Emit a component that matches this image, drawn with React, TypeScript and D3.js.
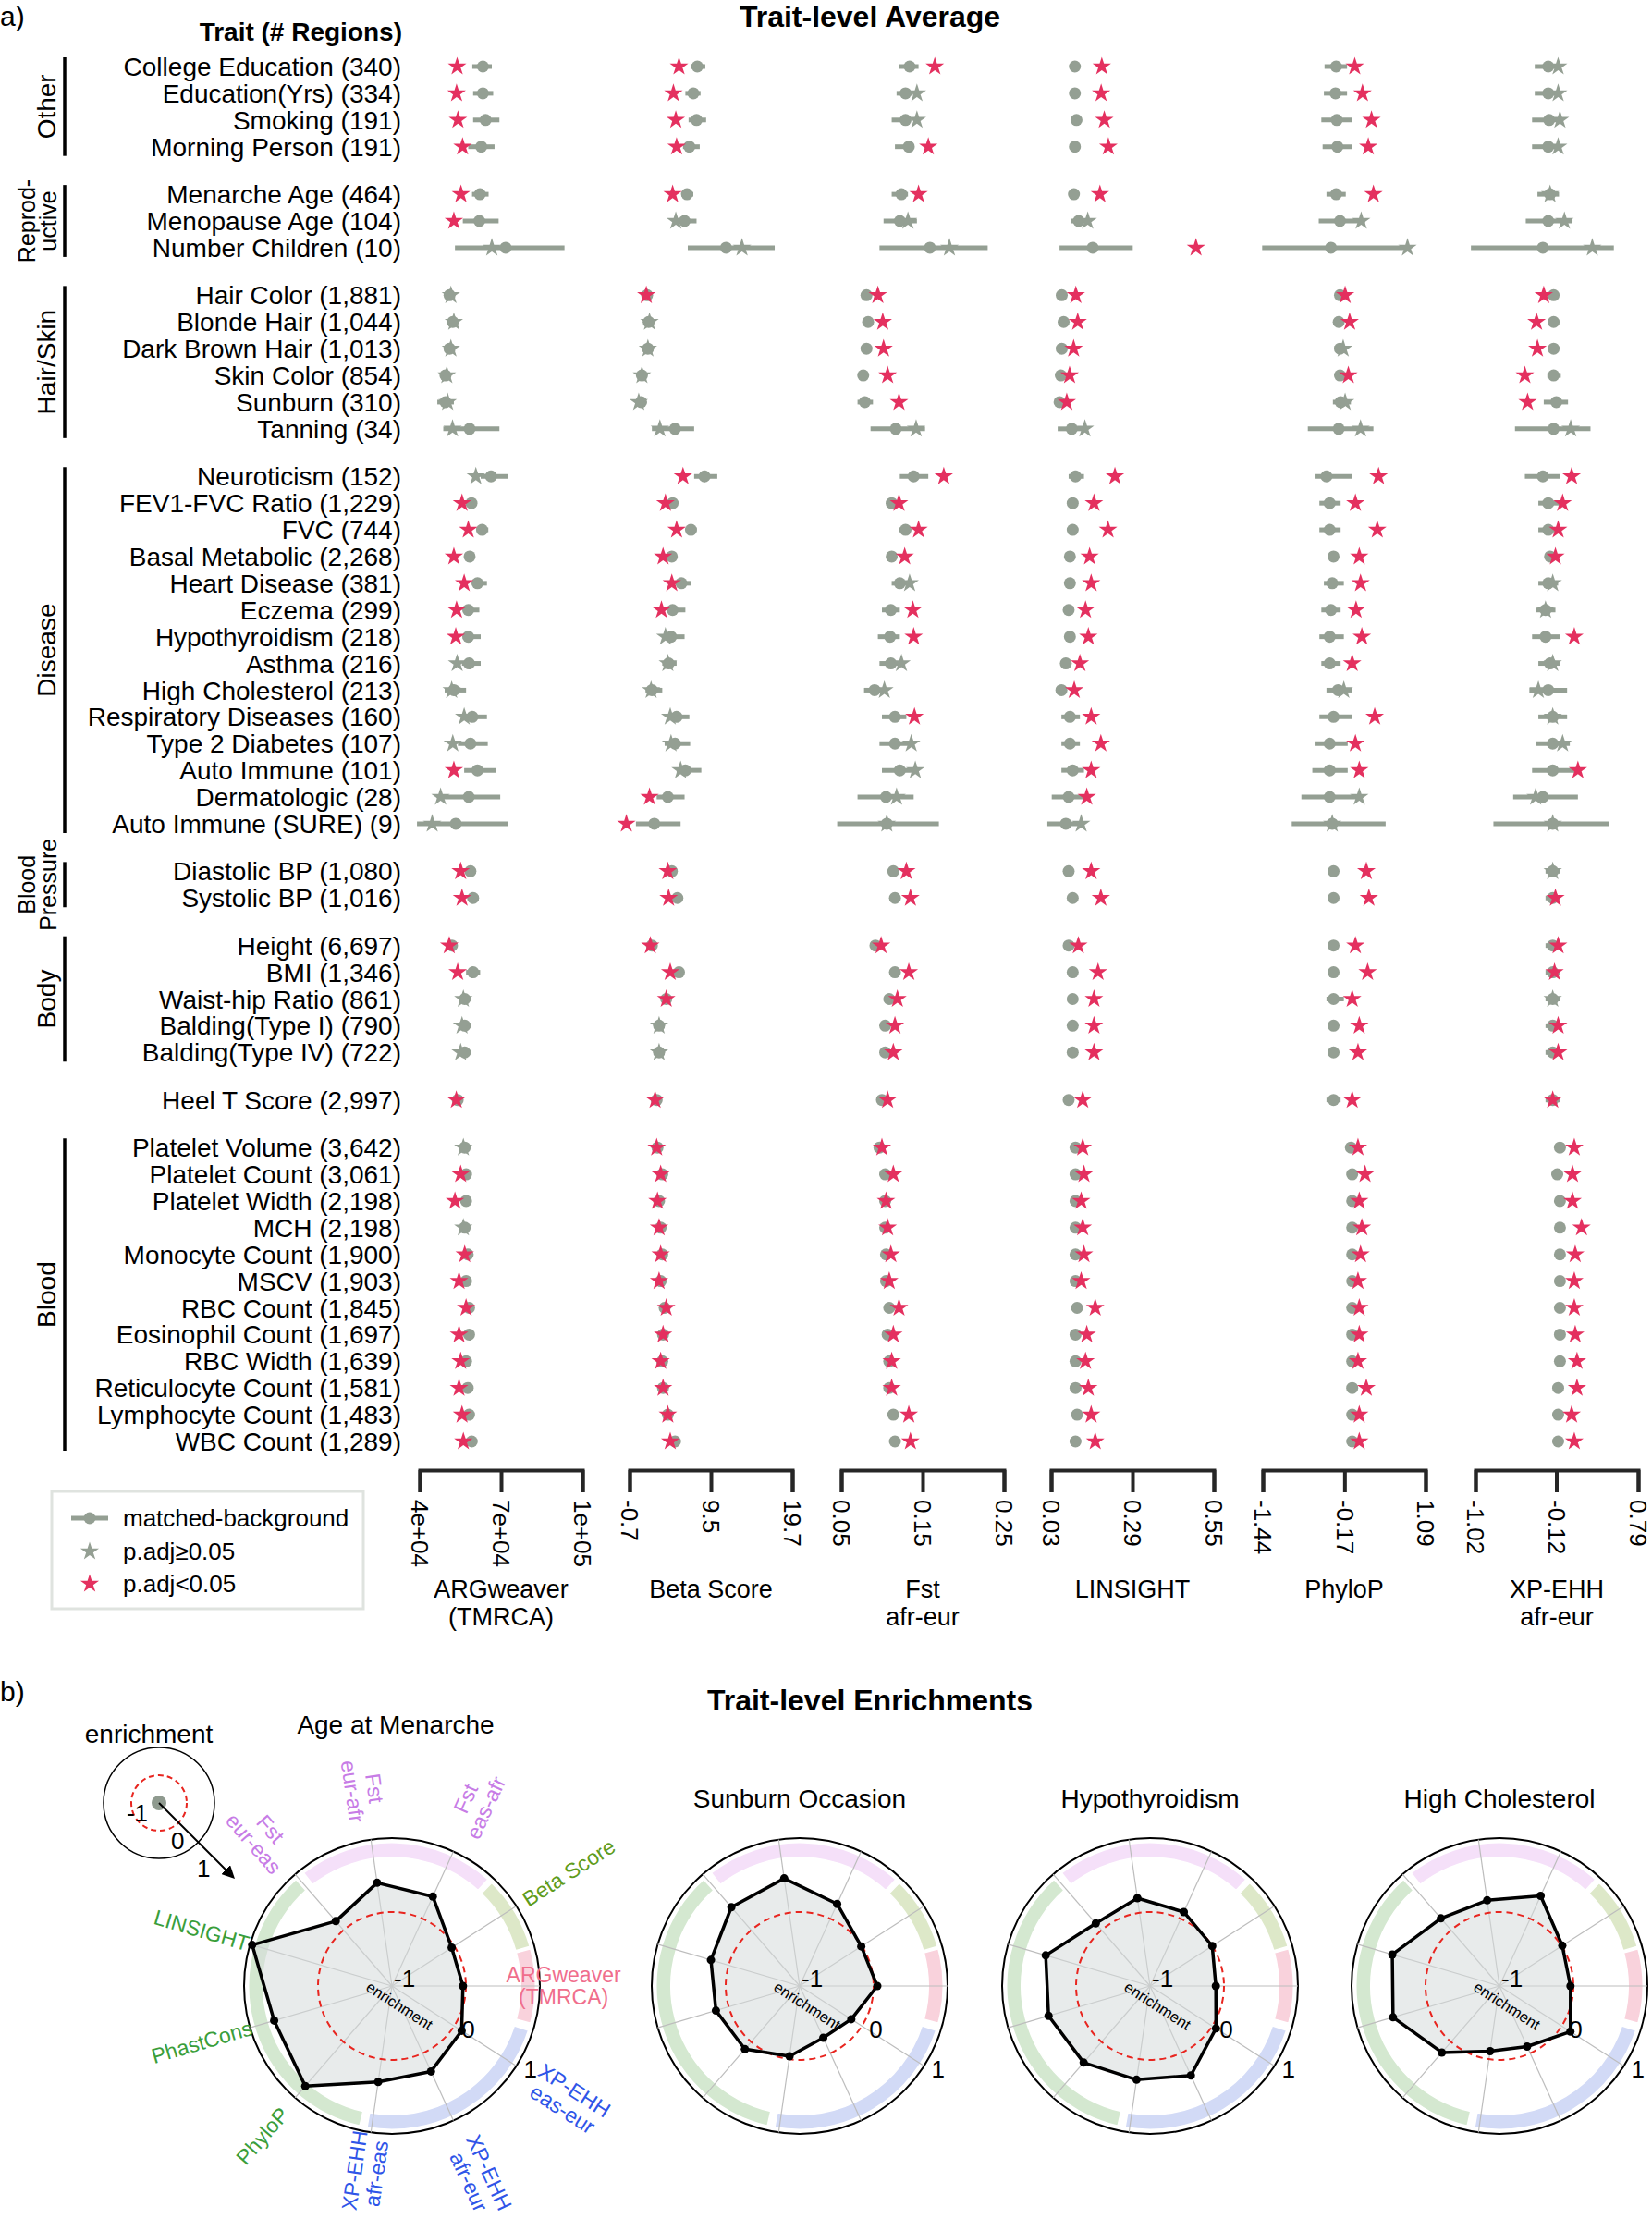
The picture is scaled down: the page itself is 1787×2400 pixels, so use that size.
import { useEffect, useRef } from "react";
import * as d3 from "d3";

const FONT = "'Liberation Sans', Arial, Helvetica, sans-serif";
const SAGE = "#949f93";
const RED = "#e4305f";

// ---------- panel a data ----------
const traits = [
  "College Education (340)", "Education(Yrs) (334)", "Smoking (191)", "Morning Person (191)",
  "Menarche Age (464)", "Menopause Age (104)", "Number Children (10)",
  "Hair Color (1,881)", "Blonde Hair (1,044)", "Dark Brown Hair (1,013)", "Skin Color (854)", "Sunburn (310)", "Tanning (34)",
  "Neuroticism (152)", "FEV1-FVC Ratio (1,229)", "FVC (744)", "Basal Metabolic (2,268)", "Heart Disease (381)",
  "Eczema (299)", "Hypothyroidism (218)", "Asthma (216)", "High Cholesterol (213)", "Respiratory Diseases (160)",
  "Type 2 Diabetes (107)", "Auto Immune (101)", "Dermatologic (28)", "Auto Immune (SURE) (9)",
  "Diastolic BP (1,080)", "Systolic BP (1,016)",
  "Height (6,697)", "BMI (1,346)", "Waist-hip Ratio (861)", "Balding(Type I) (790)", "Balding(Type IV) (722)",
  "Heel T Score (2,997)",
  "Platelet Volume (3,642)", "Platelet Count (3,061)", "Platelet Width (2,198)", "MCH (2,198)", "Monocyte Count (1,900)",
  "MSCV (1,903)", "RBC Count (1,845)", "Eosinophil Count (1,697)", "RBC Width (1,639)", "Reticulocyte Count (1,581)",
  "Lymphocyte Count (1,483)", "WBC Count (1,289)",
];

const groupLabels = [["Other"], ["Reprod-", "uctive"], ["Hair/Skin"], ["Disease"], ["Blood", "Pressure"], ["Body"], [], ["Blood"]];
const groupSizes = [4, 3, 6, 14, 2, 5, 1, 12];

// each row: [background mean, ci low, ci high, trait value, significant]
const argweaver = [
  [63300, 59400, 66600, 53800, 1], [63300, 59700, 67100, 53600, 1], [64300, 59700, 69400, 54100, 1], [62700, 57900, 67600, 55800, 1],
  [62200, 59300, 65400, 55200, 1], [62000, 55900, 69100, 52600, 1], [71700, 53000, 93400, 66600, 0],
  [51000, 50300, 51700, 51500, 0], [52200, 51500, 52900, 52600, 0], [51000, 50300, 51700, 51500, 0],
  [49500, 47600, 51100, 50000, 0], [49500, 46500, 52600, 50300, 0], [58400, 48700, 69400, 52100, 0],
  [66300, 62500, 72500, 60700, 0], [59100, 57900, 60500, 55600, 1], [63000, 61000, 65300, 57900, 1],
  [58400, 57800, 59000, 52600, 1], [61300, 59400, 64800, 56400, 1], [57900, 56400, 62000, 53600, 1],
  [57900, 55900, 62500, 53300, 1], [58200, 55600, 62500, 53800, 0], [52600, 49200, 57100, 51800, 0],
  [59400, 56400, 64800, 56400, 0], [58700, 54100, 65100, 52200, 0], [61300, 56400, 68200, 52600, 1],
  [58100, 46400, 69700, 47700, 0], [53300, 39000, 72500, 44600, 0],
  [58700, 57100, 60800, 55100, 1], [59700, 57700, 61800, 55600, 1],
  [51900, 50900, 52900, 50900, 1], [59700, 57100, 62300, 54000, 1], [56600, 54500, 58700, 56100, 0],
  [56600, 54500, 58700, 55600, 0], [56600, 54500, 58700, 55100, 0],
  [54000, 53000, 55000, 53500, 1],
  [56600, 55600, 57600, 56100, 0], [57100, 56100, 58200, 55100, 1], [57100, 56100, 58200, 53000, 1],
  [56600, 55600, 57600, 56100, 0], [57700, 56600, 58700, 56600, 1], [57100, 56100, 58200, 54500, 1],
  [58200, 57100, 59200, 57100, 1], [58200, 57100, 59200, 54500, 1], [57100, 56100, 58200, 55100, 1],
  [57700, 56600, 58700, 54500, 1], [58200, 57100, 59200, 55600, 1], [59200, 58200, 60300, 56100, 1],
];

const betaScore = [
  [7.8, 7.0, 8.8, 5.5, 1], [7.3, 6.3, 8.2, 4.8, 1], [7.7, 6.7, 8.9, 5.1, 1], [6.8, 6.0, 8.1, 5.2, 1],
  [6.5, 5.8, 7.3, 4.7, 1], [6.2, 5.2, 7.7, 5.1, 0], [11.4, 6.6, 17.5, 13.4, 0],
  [1.5, 1.2, 1.8, 1.4, 1], [1.7, 1.4, 2.0, 1.8, 0], [1.6, 1.3, 1.9, 1.6, 0],
  [0.85, 0.55, 1.15, 0.85, 0], [0.75, 0.45, 1.05, 0.45, 0], [5.0, 2.1, 7.4, 3.1, 0],
  [8.7, 7.4, 10.3, 6.0, 1], [4.7, 4.3, 5.1, 3.8, 1], [7.0, 6.5, 7.7, 5.2, 1],
  [4.6, 4.3, 4.9, 3.5, 1], [5.8, 5.2, 7.0, 4.6, 1], [4.7, 4.0, 6.3, 3.3, 1],
  [4.5, 3.7, 6.2, 3.8, 0], [4.2, 3.4, 5.2, 4.1, 0], [2.1, 1.3, 3.4, 2.0, 0],
  [5.2, 4.1, 6.8, 4.4, 0], [5.0, 3.7, 6.9, 4.5, 0], [6.3, 5.2, 8.3, 5.7, 0],
  [4.1, 2.7, 6.2, 1.8, 1], [2.4, 0.1, 5.7, -1.1, 1],
  [4.6, 4.2, 5.0, 4.1, 1], [5.3, 4.8, 5.9, 4.2, 1],
  [2.1, 1.8, 2.4, 1.9, 1], [5.5, 5.0, 6.0, 4.4, 1], [3.9, 3.6, 4.2, 3.9, 1],
  [3.0, 2.7, 3.3, 3.0, 0], [3.0, 2.7, 3.3, 3.0, 0],
  [2.7, 2.4, 3.0, 2.5, 1],
  [2.8, 2.5, 3.1, 2.7, 1], [3.4, 3.1, 3.7, 3.2, 1], [3.0, 2.7, 3.3, 2.8, 1],
  [3.2, 2.9, 3.5, 3.0, 1], [3.4, 3.1, 3.7, 3.2, 1], [3.2, 2.9, 3.5, 3.0, 1],
  [3.7, 3.4, 4.0, 3.9, 1], [3.5, 3.2, 3.8, 3.5, 1], [3.4, 3.1, 3.7, 3.2, 1],
  [3.5, 3.2, 3.8, 3.5, 1], [4.1, 3.8, 4.4, 4.1, 1], [5.0, 4.6, 5.4, 4.4, 1],
];

const fstAfrEur = [
  [0.134, 0.121, 0.145, 0.165, 1], [0.129, 0.118, 0.138, 0.143, 0], [0.129, 0.112, 0.135, 0.143, 0], [0.133, 0.116, 0.135, 0.157, 1],
  [0.124, 0.112, 0.132, 0.145, 1], [0.122, 0.102, 0.143, 0.132, 0], [0.159, 0.097, 0.230, 0.183, 0],
  [0.081, 0.078, 0.084, 0.095, 1], [0.083, 0.080, 0.086, 0.101, 1], [0.081, 0.078, 0.084, 0.102, 1],
  [0.077, 0.074, 0.080, 0.107, 1], [0.079, 0.070, 0.089, 0.121, 1], [0.117, 0.086, 0.153, 0.142, 0],
  [0.139, 0.122, 0.157, 0.176, 1], [0.112, 0.108, 0.116, 0.121, 1], [0.129, 0.121, 0.135, 0.145, 1],
  [0.112, 0.109, 0.115, 0.128, 1], [0.122, 0.112, 0.130, 0.134, 0], [0.111, 0.100, 0.122, 0.138, 1],
  [0.110, 0.095, 0.122, 0.139, 1], [0.111, 0.097, 0.121, 0.124, 0], [0.091, 0.078, 0.102, 0.103, 0],
  [0.116, 0.100, 0.130, 0.140, 1], [0.116, 0.097, 0.135, 0.136, 0], [0.122, 0.100, 0.141, 0.141, 0],
  [0.105, 0.070, 0.139, 0.118, 0], [0.106, 0.045, 0.170, 0.106, 0],
  [0.114, 0.110, 0.118, 0.130, 1], [0.116, 0.111, 0.121, 0.135, 1],
  [0.092, 0.089, 0.095, 0.099, 1], [0.116, 0.111, 0.120, 0.133, 1], [0.109, 0.106, 0.112, 0.119, 1],
  [0.104, 0.101, 0.107, 0.116, 1], [0.104, 0.101, 0.107, 0.114, 1],
  [0.100, 0.097, 0.103, 0.107, 1],
  [0.097, 0.094, 0.100, 0.100, 1], [0.104, 0.101, 0.107, 0.114, 1], [0.104, 0.101, 0.107, 0.105, 1],
  [0.104, 0.101, 0.107, 0.107, 1], [0.105, 0.102, 0.108, 0.111, 1], [0.105, 0.102, 0.108, 0.109, 1],
  [0.109, 0.106, 0.112, 0.121, 1], [0.107, 0.104, 0.110, 0.114, 1], [0.109, 0.106, 0.112, 0.112, 1],
  [0.109, 0.106, 0.112, 0.112, 1], [0.114, 0.111, 0.117, 0.133, 1], [0.116, 0.113, 0.119, 0.135, 1],
];

const linsight = [
  [0.106, 0.100, 0.112, 0.192, 1], [0.106, 0.100, 0.112, 0.190, 1], [0.111, 0.095, 0.128, 0.200, 1], [0.106, 0.090, 0.122, 0.213, 1],
  [0.103, 0.097, 0.109, 0.186, 1], [0.118, 0.095, 0.150, 0.147, 0], [0.163, 0.057, 0.291, 0.493, 1],
  [0.064, 0.060, 0.068, 0.109, 1], [0.070, 0.066, 0.074, 0.115, 1], [0.064, 0.060, 0.068, 0.102, 1],
  [0.061, 0.057, 0.065, 0.089, 1], [0.057, 0.053, 0.061, 0.080, 1], [0.096, 0.051, 0.128, 0.138, 0],
  [0.108, 0.086, 0.135, 0.234, 1], [0.099, 0.093, 0.105, 0.167, 1], [0.099, 0.093, 0.105, 0.212, 1],
  [0.090, 0.085, 0.095, 0.153, 1], [0.090, 0.083, 0.097, 0.158, 1], [0.086, 0.079, 0.095, 0.140, 1],
  [0.090, 0.083, 0.097, 0.149, 1], [0.077, 0.070, 0.084, 0.122, 1], [0.063, 0.056, 0.070, 0.104, 1],
  [0.090, 0.063, 0.122, 0.158, 1], [0.090, 0.063, 0.122, 0.189, 1], [0.099, 0.063, 0.135, 0.158, 1],
  [0.086, 0.032, 0.135, 0.144, 1], [0.077, 0.018, 0.135, 0.126, 0],
  [0.086, 0.081, 0.091, 0.158, 1], [0.099, 0.094, 0.104, 0.189, 1],
  [0.086, 0.081, 0.091, 0.117, 1], [0.099, 0.094, 0.104, 0.180, 1], [0.099, 0.094, 0.104, 0.167, 1],
  [0.099, 0.094, 0.104, 0.167, 1], [0.099, 0.094, 0.104, 0.167, 1],
  [0.086, 0.081, 0.091, 0.131, 1],
  [0.108, 0.103, 0.113, 0.131, 1], [0.108, 0.103, 0.113, 0.135, 1], [0.108, 0.103, 0.113, 0.126, 1],
  [0.108, 0.103, 0.113, 0.131, 1], [0.108, 0.103, 0.113, 0.135, 1], [0.108, 0.103, 0.113, 0.126, 1],
  [0.113, 0.108, 0.118, 0.171, 1], [0.108, 0.103, 0.113, 0.144, 1], [0.108, 0.103, 0.113, 0.140, 1],
  [0.108, 0.103, 0.113, 0.149, 1], [0.113, 0.108, 0.118, 0.158, 1], [0.108, 0.103, 0.113, 0.171, 1],
];

const phyloP = [
  [-0.30, -0.48, -0.13, -0.01, 1], [-0.31, -0.49, -0.13, 0.11, 1], [-0.29, -0.53, -0.05, 0.25, 1], [-0.28, -0.51, -0.05, 0.20, 1],
  [-0.30, -0.45, -0.15, 0.28, 1], [-0.24, -0.57, 0.15, 0.09, 0], [-0.38, -1.45, 0.78, 0.81, 0],
  [-0.24, -0.28, -0.21, -0.16, 1], [-0.26, -0.29, -0.22, -0.09, 1], [-0.24, -0.28, -0.21, -0.19, 0],
  [-0.24, -0.28, -0.21, -0.11, 1], [-0.23, -0.35, -0.07, -0.16, 0], [-0.26, -0.74, 0.28, 0.08, 0],
  [-0.45, -0.62, -0.05, 0.36, 1], [-0.40, -0.56, -0.23, 0.00, 1], [-0.40, -0.56, -0.23, 0.34, 1],
  [-0.34, -0.40, -0.28, 0.06, 1], [-0.36, -0.49, -0.18, 0.08, 1], [-0.38, -0.53, -0.23, 0.01, 1],
  [-0.40, -0.56, -0.18, 0.10, 1], [-0.40, -0.53, -0.23, -0.05, 1], [-0.27, -0.45, -0.05, -0.18, 0],
  [-0.34, -0.56, -0.05, 0.30, 1], [-0.40, -0.62, -0.12, 0.00, 1], [-0.40, -0.67, -0.12, 0.06, 1],
  [-0.40, -0.84, 0.04, 0.06, 0], [-0.36, -0.99, 0.47, -0.36, 0],
  [-0.34, -0.40, -0.28, 0.17, 1], [-0.34, -0.40, -0.28, 0.21, 1],
  [-0.34, -0.40, -0.28, 0.00, 1], [-0.34, -0.40, -0.28, 0.19, 1], [-0.34, -0.45, -0.18, -0.05, 1],
  [-0.34, -0.40, -0.28, 0.06, 1], [-0.34, -0.40, -0.28, 0.04, 1],
  [-0.34, -0.45, -0.23, -0.05, 1],
  [-0.07, -0.12, -0.02, 0.04, 1], [-0.05, -0.10, 0.00, 0.15, 1], [-0.05, -0.10, 0.00, 0.06, 1],
  [-0.05, -0.10, 0.00, 0.10, 1], [-0.05, -0.10, 0.00, 0.08, 1], [-0.05, -0.10, 0.00, 0.04, 1],
  [-0.05, -0.10, 0.00, 0.06, 1], [-0.05, -0.10, 0.00, 0.06, 1], [-0.05, -0.10, 0.00, 0.04, 1],
  [-0.05, -0.10, 0.00, 0.17, 1], [-0.05, -0.10, 0.00, 0.06, 1], [-0.05, -0.10, 0.00, 0.06, 1],
];

const xpEhhAfrEur = [
  [-0.21, -0.36, -0.10, -0.10, 0], [-0.21, -0.36, -0.10, -0.10, 0], [-0.20, -0.39, -0.08, -0.08, 0], [-0.21, -0.39, -0.08, -0.10, 0],
  [-0.19, -0.33, -0.09, -0.19, 0], [-0.21, -0.46, 0.06, -0.03, 0], [-0.27, -1.07, 0.52, 0.28, 0],
  [-0.15, -0.18, -0.13, -0.26, 1], [-0.15, -0.21, -0.09, -0.34, 1], [-0.15, -0.19, -0.12, -0.33, 1],
  [-0.15, -0.22, -0.07, -0.47, 1], [-0.12, -0.26, 0.01, -0.44, 1], [-0.15, -0.58, 0.26, 0.04, 0],
  [-0.27, -0.47, -0.08, 0.05, 1], [-0.21, -0.32, -0.08, -0.05, 1], [-0.21, -0.32, -0.08, -0.10, 1],
  [-0.19, -0.24, -0.14, -0.13, 1], [-0.21, -0.32, -0.10, -0.16, 0], [-0.24, -0.35, -0.13, -0.24, 0],
  [-0.24, -0.39, -0.08, 0.08, 1], [-0.19, -0.32, -0.08, -0.16, 0], [-0.21, -0.42, 0.00, -0.32, 0],
  [-0.16, -0.32, 0.00, -0.16, 0], [-0.16, -0.35, 0.03, -0.05, 0], [-0.16, -0.39, 0.08, 0.12, 1],
  [-0.27, -0.60, 0.12, -0.35, 0], [-0.16, -0.82, 0.47, -0.16, 0],
  [-0.16, -0.24, -0.08, -0.16, 0], [-0.16, -0.24, -0.08, -0.13, 1],
  [-0.16, -0.24, -0.08, -0.10, 1], [-0.16, -0.24, -0.08, -0.14, 1], [-0.16, -0.24, -0.08, -0.16, 0],
  [-0.16, -0.24, -0.08, -0.10, 1], [-0.16, -0.24, -0.08, -0.10, 1],
  [-0.16, -0.24, -0.08, -0.16, 1],
  [-0.08, -0.13, -0.03, 0.08, 1], [-0.11, -0.16, -0.06, 0.06, 1], [-0.08, -0.13, -0.03, 0.06, 1],
  [-0.08, -0.13, -0.03, 0.16, 1], [-0.08, -0.13, -0.03, 0.09, 1], [-0.08, -0.13, -0.03, 0.08, 1],
  [-0.08, -0.13, -0.03, 0.08, 1], [-0.08, -0.13, -0.03, 0.09, 1], [-0.08, -0.13, -0.03, 0.11, 1],
  [-0.10, -0.15, -0.05, 0.11, 1], [-0.10, -0.15, -0.05, 0.05, 1], [-0.10, -0.15, -0.05, 0.08, 1],
];

const metricData = [argweaver, betaScore, fstAfrEur, linsight, phyloP, xpEhhAfrEur];
const metricTitles = [["ARGweaver", "(TMRCA)"], ["Beta Score"], ["Fst", "afr-eur"], ["LINSIGHT"], ["PhyloP"], ["XP-EHH", "afr-eur"]];
const metricTicks = [
  [40000, 70000, 100000], [-0.7, 9.5, 19.7], [0.05, 0.15, 0.25],
  [0.03, 0.29, 0.55], [-1.44, -0.17, 1.09], [-1.02, -0.12, 0.79],
];
const metricTickLabels = [
  ["4e+04", "7e+04", "1e+05"], ["-0.7", "9.5", "19.7"], ["0.05", "0.15", "0.25"],
  ["0.03", "0.29", "0.55"], ["-1.44", "-0.17", "1.09"], ["-1.02", "-0.12", "0.79"],
];
const legendItems = ["matched-background", "p.adj\u22650.05", "p.adj<0.05"];

// ---------- panel b data ----------
const radarAxes = [
  ["ARGweaver", "(TMRCA)"], ["XP-EHH", "eas-eur"], ["XP-EHH", "afr-eur"], ["XP-EHH", "afr-eas"],
  ["PhyloP"], ["PhastCons"], ["LINSIGHT"], ["Fst", "eur-eas"], ["Fst", "eur-afr"], ["Fst", "eas-afr"], ["Beta Score"],
];
const radarAxisColors = ["#f06e8c", "#2f55e8", "#2f55e8", "#2f55e8", "#3a9e3a", "#3a9e3a", "#3a9e3a", "#c77ce6", "#c77ce6", "#c77ce6", "#5f9c1c"];
const radarTitles = ["Age at Menarche", "Sunburn Occasion", "Hypothyroidism", "High Cholesterol"];
const menarcheEnrich = [-0.04, 0.12, 0.27, 0.31, 0.79, 0.66, 0.97, 0.16, 0.41, 0.33, -0.04];
const sunburnEnrich = [0.05, -0.17, -0.23, -0.04, 0.13, 0.18, 0.25, 0.41, 0.47, 0.22, -0.01];
const hypothyroidEnrich = [-0.11, 0.06, 0.33, 0.28, 0.37, 0.43, 0.47, 0.12, 0.2, 0.1, 0.0];
const cholesterolEnrich = [-0.04, 0.14, -0.1, -0.11, 0.19, 0.5, 0.51, 0.21, 0.17, 0.34, 0.01];
const radarValues = [menarcheEnrich, sunburnEnrich, hypothyroidEnrich, cholesterolEnrich];
// outer ring bands (degrees clockwise from east) per category
const bandRanges = [[-15, 15], [18, 100], [103, 228], [232, 312], [314, 344]];
const bandColors = ["#f9d2dc", "#d2daf6", "#d4e8d0", "#f5e0f9", "#dde8c8"];

const COL_STARTS = [454, 681, 910, 1137, 1366, 1596];
const COL_W = 176;
const GAP = 0.78;
const LABEL_RADIUS = [1.16, 1.42, 1.42, 1.27, 1.34, 1.34, 1.34, 1.34, 1.34, 1.36, 1.42];

function drawPanelA(svg: any) {
  const g = svg.append("g");
  g.append("text").attr("x", 0).attr("y", 28).attr("font-size", 30).text("a)");
  g.append("text").attr("x", 941).attr("y", 29).attr("text-anchor", "middle")
    .attr("font-size", 32).attr("font-weight", "bold").text("Trait-level Average");
  g.append("text").attr("x", 435).attr("y", 44).attr("text-anchor", "end")
    .attr("font-size", 28).attr("font-weight", "bold").text("Trait (# Regions)");

  const slots: number[] = [];
  let idx = 0;
  groupSizes.forEach((n, gi) => {
    for (let k = 0; k < n; k++) {
      slots.push(idx + gi * GAP);
      idx++;
    }
  });
  const y = d3.scaleLinear().domain([0, slots[slots.length - 1]]).range([72, 1559]);

  g.selectAll(".trait").data(traits).join("text")
    .attr("class", "trait")
    .attr("x", 434)
    .attr("y", (_d: string, i: number) => y(slots[i]))
    .attr("dy", "0.36em")
    .attr("text-anchor", "end")
    .attr("font-size", 28)
    .text((d: string) => d);

  let start = 0;
  groupSizes.forEach((n, gi) => {
    const lab = groupLabels[gi];
    const y1 = y(slots[start]) - 10;
    const y2 = y(slots[start + n - 1]) + 10;
    if (lab.length) {
      g.append("line").attr("x1", 70).attr("x2", 70).attr("y1", y1).attr("y2", y2)
        .attr("stroke", "#000").attr("stroke-width", 3.5);
      const mid = (y1 + y2) / 2;
      if (lab.length === 1) {
        g.append("text").attr("transform", `translate(50,${mid}) rotate(-90)`)
          .attr("text-anchor", "middle").attr("dy", "0.36em").attr("font-size", 28).text(lab[0]);
      } else {
        lab.forEach((t, li) => {
          g.append("text").attr("transform", `translate(${29 + li * 23},${mid}) rotate(-90)`)
            .attr("text-anchor", "middle").attr("dy", "0.36em").attr("font-size", 25).text(t);
        });
      }
    }
    start += n;
  });

  const starPath = d3.symbol().type(d3.symbolStar).size(125)();

  metricData.forEach((data, mi) => {
    const ticks = metricTicks[mi];
    const x = d3.scaleLinear().domain([ticks[0], ticks[2]]).range([COL_STARTS[mi], COL_STARTS[mi] + COL_W]);
    const cg = g.append("g");
    cg.selectAll(".ci").data(data).join("line")
      .attr("x1", (d: number[]) => x(d[1]))
      .attr("x2", (d: number[]) => x(d[2]))
      .attr("y1", (_d: number[], i: number) => y(slots[i]))
      .attr("y2", (_d: number[], i: number) => y(slots[i]))
      .attr("stroke", SAGE).attr("stroke-width", 5);
    cg.selectAll(".bg").data(data).join("circle")
      .attr("cx", (d: number[]) => x(d[0]))
      .attr("cy", (_d: number[], i: number) => y(slots[i]))
      .attr("r", 6.5).attr("fill", SAGE);
    cg.selectAll(".star").data(data).join("path")
      .attr("d", starPath)
      .attr("transform", (d: number[], i: number) => `translate(${x(d[3])},${y(slots[i])})`)
      .attr("fill", (d: number[]) => (d[4] ? RED : SAGE));

    const ax = cg.append("g").attr("transform", "translate(0,1590)")
      .call(d3.axisBottom(x).tickValues(ticks).tickSize(24).tickSizeOuter(24)
        .tickFormat((_d: any, i: number) => metricTickLabels[mi][i]));
    ax.select(".domain").attr("stroke", "#262626").attr("stroke-width", 4);
    ax.selectAll(".tick line").attr("stroke", "#262626").attr("stroke-width", 4);
    ax.selectAll(".tick text")
      .attr("transform", "rotate(90)").attr("x", 32).attr("y", 0).attr("dy", "0.35em")
      .attr("text-anchor", "start").attr("font-size", 26).attr("font-family", FONT).attr("fill", "#000");

    const cx = COL_STARTS[mi] + COL_W / 2;
    metricTitles[mi].forEach((t, li) => {
      cg.append("text").attr("x", cx).attr("y", 1728 + li * 30).attr("text-anchor", "middle")
        .attr("font-size", 27).text(t);
    });
  });

  // legend
  const lg = g.append("g");
  lg.append("rect").attr("x", 56).attr("y", 1613).attr("width", 337).attr("height", 127)
    .attr("fill", "#fff").attr("stroke", "#dfe3df").attr("stroke-width", 3);
  const ly = [1642, 1678, 1713];
  lg.append("line").attr("x1", 77).attr("x2", 117).attr("y1", ly[0]).attr("y2", ly[0])
    .attr("stroke", SAGE).attr("stroke-width", 5);
  lg.append("circle").attr("cx", 97).attr("cy", ly[0]).attr("r", 6.5).attr("fill", SAGE);
  lg.append("path").attr("d", starPath).attr("transform", `translate(97,${ly[1]})`).attr("fill", SAGE);
  lg.append("path").attr("d", starPath).attr("transform", `translate(97,${ly[2]})`).attr("fill", RED);
  legendItems.forEach((t, i) => {
    lg.append("text").attr("x", 133).attr("y", ly[i]).attr("dy", "0.36em").attr("font-size", 26).text(t);
  });
}

function drawPanelB(svg: any) {
  const g = svg.append("g");
  g.append("text").attr("x", 0).attr("y", 1840).attr("font-size", 30).text("b)");
  g.append("text").attr("x", 941).attr("y", 1850).attr("text-anchor", "middle")
    .attr("font-size", 32).attr("font-weight", "bold").text("Trait-level Enrichments");

  // key
  const kx = 172, ky = 1950;
  svg.append("defs").append("marker").attr("id", "arrowhead")
    .attr("viewBox", "0 0 10 10").attr("refX", 8).attr("refY", 5)
    .attr("markerWidth", 7).attr("markerHeight", 7).attr("orient", "auto")
    .append("path").attr("d", "M0,0L10,5L0,10z").attr("fill", "#000");
  g.append("text").attr("x", 161).attr("y", 1885).attr("text-anchor", "middle").attr("font-size", 28).text("enrichment");
  g.append("circle").attr("cx", kx).attr("cy", ky).attr("r", 60).attr("fill", "none").attr("stroke", "#000").attr("stroke-width", 1.5);
  g.append("circle").attr("cx", kx).attr("cy", ky).attr("r", 30).attr("fill", "none")
    .attr("stroke", "#e8251f").attr("stroke-width", 2).attr("stroke-dasharray", "6,4");
  g.append("circle").attr("cx", kx).attr("cy", ky).attr("r", 8).attr("fill", "#8f9a8f");
  g.append("line").attr("x1", kx).attr("y1", ky).attr("x2", kx + 80).attr("y2", ky + 80)
    .attr("stroke", "#000").attr("stroke-width", 2).attr("marker-end", "url(#arrowhead)");
  g.append("text").attr("x", kx - 12).attr("y", ky + 20).attr("text-anchor", "end").attr("font-size", 26).text("-1");
  g.append("text").attr("x", kx + 13).attr("y", ky + 50).attr("font-size", 26).text("0");
  g.append("text").attr("x", kx + 41).attr("y", ky + 80).attr("font-size", 26).text("1");

  const R = 160, CY = 2148;
  const centers = [424, 865, 1244, 1622];
  const titleY = [1875, 1955, 1955, 1955];
  const rs = d3.scaleLinear().domain([-1, 1]).range([0, R]);
  const n = radarAxes.length;
  const deg = (k: number) => (k * 360) / n;
  const rad = (d: number) => (d * Math.PI) / 180;
  const toD3 = (d: number) => rad(d + 90);
  const band = d3.arc().innerRadius(0.87 * R).outerRadius(0.97 * R);

  radarValues.forEach((vals, ri) => {
    const cx = centers[ri];
    const rg = g.append("g").attr("transform", `translate(${cx},${CY})`);
    bandRanges.forEach((br, bi) => {
      rg.append("path")
        .attr("d", band({ startAngle: toD3(br[0]), endAngle: toD3(br[1]) } as any))
        .attr("fill", bandColors[bi]).attr("stroke", "#fff").attr("stroke-width", 1.5);
    });
    rg.append("circle").attr("r", R).attr("fill", "none").attr("stroke", "#000").attr("stroke-width", 2);
    radarAxes.forEach((_a, k) => {
      rg.append("line").attr("x1", 0).attr("y1", 0)
        .attr("x2", R * Math.cos(rad(deg(k)))).attr("y2", R * Math.sin(rad(deg(k))))
        .attr("stroke", "#bdbdbd").attr("stroke-width", 1.2);
    });
    const line = d3.lineRadial<number>()
      .angle((_v, k) => toD3(deg(k)))
      .radius((v) => rs(v))
      .curve(d3.curveLinearClosed);
    rg.append("path").attr("d", line(vals)).attr("fill", "#d5dbdb").attr("fill-opacity", 0.55);
    rg.append("circle").attr("r", rs(0)).attr("fill", "none")
      .attr("stroke", "#e8251f").attr("stroke-width", 2).attr("stroke-dasharray", "7,5");
    rg.append("path").attr("d", line(vals)).attr("fill", "none").attr("stroke", "#000")
      .attr("stroke-width", 3.5).attr("stroke-linejoin", "round");
    rg.selectAll(".pt").data(vals).join("circle")
      .attr("cx", (v: number, k: number) => rs(v) * Math.cos(rad(deg(k))))
      .attr("cy", (v: number, k: number) => rs(v) * Math.sin(rad(deg(k))))
      .attr("r", 4.5).attr("fill", "#000");

    const a30 = rad(30);
    rg.append("text").attr("x", 2).attr("y", 1).attr("font-size", 26).text("-1");
    rg.append("text").attr("x", rs(0) * Math.cos(a30) + 6).attr("y", rs(0) * Math.sin(a30) + 16)
      .attr("font-size", 26).text("0");
    rg.append("text").attr("x", R * Math.cos(a30) + 4).attr("y", R * Math.sin(a30) + 19)
      .attr("font-size", 26).text("1");
    rg.append("text").attr("transform", "rotate(33)").attr("x", -0.14 * R).attr("y", 0.12 * R)
      .attr("font-size", 16.5).text("enrichment");

    g.append("text").attr("x", cx + (ri === 0 ? 4 : 0)).attr("y", titleY[ri]).attr("text-anchor", "middle")
      .attr("font-size", 28).text(radarTitles[ri]);

    if (ri === 0) {
      radarAxes.forEach((lines, k) => {
        const d = deg(k);
        const f = LABEL_RADIUS[k];
        const px = f * R * Math.cos(rad(d));
        const py = f * R * Math.sin(rad(d));
        const rot = d > 90 && d < 270 ? d - 180 : d > 270 ? d - 360 : d;
        const t = rg.append("text").attr("transform", `translate(${px},${py}) rotate(${rot})`)
          .attr("text-anchor", "middle").attr("font-size", 23).attr("fill", radarAxisColors[k]);
        lines.forEach((ln, li) => {
          t.append("tspan").attr("x", 0)
            .attr("y", (li - (lines.length - 1) / 2) * 24)
            .attr("dy", "0.36em").text(ln);
        });
      });
    }
  });
}

export default function App() {
  const ref = useRef<SVGSVGElement>(null);

  useEffect(() => {
    document.body.style.margin = "0";
    if (!ref.current) return;
    const svg = d3.select(ref.current);
    svg.selectAll("*").remove();
    drawPanelA(svg);
    drawPanelB(svg);
  }, []);

  return (
    <svg
      ref={ref}
      width={1787}
      height={2400}
      style={{ display: "block", background: "#fff" }}
      fontFamily={FONT}
    />
  );
}
